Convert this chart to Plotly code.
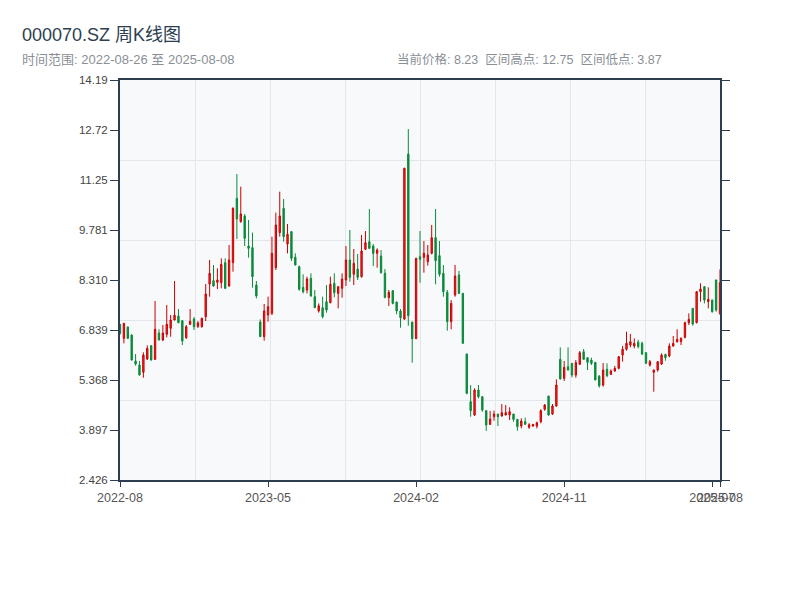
import pandas as pd
import numpy as np
import plotly.graph_objects as go

# ---------------- data (weekly K-line) ----------------
dates = pd.date_range("2022-08-26", periods=155, freq="7D")

opens = [
    7.005, 6.593, 6.927, 6.691, 5.927, 5.809, 5.593, 5.985, 6.378, 5.976,
    6.750, 6.544, 6.711, 6.888, 7.133, 7.250, 7.113, 6.613, 7.005, 7.162,
    6.940, 6.937, 7.231, 8.192, 8.290, 8.241, 8.231, 8.820, 8.133,
    8.820, 10.712, 10.026, 10.193, 9.310, 9.261, 8.163, 7.074, 6.643, 7.280,
    7.329, 8.673, 9.702, 10.418, 9.369, 9.732, 8.977, 8.702, 8.094, 8.015,
    8.359, 7.820, 7.400, 7.496, 7.672, 7.643, 8.212, 7.917, 8.065, 8.310,
    8.898, 8.477, 8.633, 8.408, 9.212, 9.438, 9.310, 9.094, 9.016, 8.506,
    7.790,
    7.996, 7.662, 7.398, 7.162, 12.016, 7.074, 6.584, 8.996, 8.977, 8.849,
    9.094, 9.555, 9.026, 8.506, 7.947, 7.084, 7.868, 8.457, 7.917,
    6.133, 4.730, 4.338, 5.074, 4.877, 4.466, 4.063, 4.289, 4.367, 4.309,
    4.338, 4.338, 4.367, 4.210, 4.014, 4.142, 3.980, 4.014, 4.014, 4.142,
    4.505, 4.897, 4.367, 4.603, 5.976, 5.417, 5.760, 5.858, 5.515, 5.829,
    6.201, 6.025, 5.956, 5.888,
    5.480, 5.220, 5.682, 5.534, 5.632, 5.711, 6.103, 6.270, 6.397, 6.368,
    6.480, 6.446, 6.172, 5.809, 5.593, 5.662, 5.838, 6.123, 6.074, 6.368,
    6.495, 6.495, 6.623, 7.054, 7.476, 7.054, 7.966, 8.113, 7.672, 7.721,
    8.310, 7.329,
]
highs = [
    7.010, 7.040, 6.940, 6.710, 6.132, 5.927, 6.182, 6.387, 6.390, 7.692,
    6.858, 6.986, 7.574, 7.280, 8.280, 7.456, 7.133, 6.986, 7.456, 7.221,
    7.100, 7.201, 8.192, 8.898, 8.751, 8.653, 8.947, 8.947, 9.339,
    10.448, 11.428, 11.056, 10.252, 10.075, 9.702, 8.280, 7.152, 7.604, 7.820,
    9.585, 10.291, 10.909, 10.693, 9.957, 9.750, 9.094, 8.732, 8.477, 8.408,
    8.506, 8.015, 7.620, 7.820, 8.163, 8.408, 8.506, 8.120, 8.506, 9.310,
    9.781, 9.222, 9.075, 9.634, 9.751, 10.399, 9.369, 9.241, 9.192, 8.633,
    8.015,
    8.015, 7.670, 7.456, 11.614, 12.750, 7.080, 8.967, 9.751, 9.457, 9.339,
    9.928, 10.399, 9.457, 8.751, 8.015, 7.721, 8.751, 8.575, 7.920,
    6.140, 5.221, 5.123, 5.221, 4.897, 4.470, 4.456, 4.466, 4.370, 4.662,
    4.632, 4.564, 4.370, 4.220, 4.240, 4.260, 4.100, 4.070, 4.142, 4.505,
    4.662, 4.900, 4.662, 5.387, 6.329, 5.927, 6.329, 5.870, 5.956, 6.221,
    6.280, 6.030, 6.025, 5.890,
    5.515, 5.868, 5.858, 5.681, 5.780, 6.074, 6.368, 6.790, 6.721, 6.593,
    6.550, 6.495, 6.180, 5.956, 5.670, 5.927, 6.152, 6.130, 6.446, 6.662,
    6.858, 6.623, 7.084, 7.329, 7.480, 7.986, 8.212, 8.120, 8.094, 7.730,
    8.320, 8.623,
]
lows = [
    6.700, 6.446, 6.574, 5.940, 5.789, 5.500, 5.436, 5.956, 5.940, 5.956,
    6.530, 6.515, 6.623, 6.642, 7.120, 7.040, 6.397, 6.574, 6.986, 6.839,
    6.900, 6.907, 7.103, 7.819, 8.114, 8.045, 8.064, 8.045, 8.114,
    8.555, 9.516, 9.997, 9.310, 8.967, 8.084, 7.770, 6.643, 6.525, 7.084,
    7.280, 8.604, 9.585, 9.438, 9.094, 8.869, 8.740, 7.996, 7.917, 7.917,
    7.820, 7.490, 7.350, 7.182, 7.349, 7.623, 7.800, 7.476, 7.790, 8.133,
    8.261, 8.163, 8.310, 8.378, 9.192, 9.220, 8.722, 8.673, 8.500, 7.770,
    7.545,
    7.594, 7.300, 6.907, 7.133, 6.966, 5.877, 6.580, 8.231, 8.526, 8.731,
    9.065, 8.182, 8.408, 7.819, 6.819, 6.858, 7.819, 7.900, 6.446,
    4.950, 4.289, 4.309, 4.828, 4.436, 3.870, 4.044, 4.171, 4.014, 4.290,
    4.330, 4.191, 4.142, 3.875, 3.946, 4.060, 3.930, 3.995, 3.946, 4.093,
    4.466, 4.318, 4.338, 4.583, 5.390, 5.338, 5.650, 5.446, 5.436, 5.809,
    5.970, 5.662, 5.809, 5.368,
    5.142, 5.171, 5.450, 5.515, 5.613, 5.681, 5.907, 6.230, 6.329, 6.299,
    6.300, 6.103, 5.850, 5.760, 5.024, 5.613, 5.809, 5.936, 6.035, 6.348,
    6.466, 6.397, 6.593, 6.986, 6.966, 7.035, 7.672, 7.623, 7.476, 7.349,
    7.378, 7.280,
]
closes = [
    6.740, 7.035, 6.593, 5.956, 5.838, 5.515, 6.103, 6.299, 5.956, 6.858,
    6.544, 6.750, 7.005, 7.133, 7.270, 7.054, 6.515, 6.937, 7.094, 6.937,
    7.050, 7.182, 7.898, 8.506, 8.133, 8.310, 8.770, 8.064, 8.898,
    10.418, 10.104, 10.252, 9.536, 9.241, 8.408, 7.839, 6.643, 7.398, 7.525,
    9.094, 9.928, 10.193, 9.585, 9.653, 8.947, 8.751, 8.035, 7.966, 8.339,
    7.839, 7.496, 7.550, 7.231, 7.427, 8.182, 7.937, 8.113, 8.339, 8.898,
    8.388, 8.800, 8.388, 9.163, 9.408, 9.241, 9.094, 9.192, 8.526, 7.800,
    7.947,
    7.623, 7.398, 7.202, 11.595, 7.260, 6.584, 8.947, 8.918, 9.094, 9.045,
    9.555, 8.879, 8.476, 7.966, 7.084, 7.623, 8.427, 7.917, 6.446,
    4.976, 4.466, 5.074, 4.877, 4.485, 4.044, 4.220, 4.367, 4.289, 4.407,
    4.407, 4.436, 4.211, 3.995, 4.162, 4.063, 4.050, 4.063, 4.113, 4.466,
    4.632, 4.338, 4.603, 5.221, 5.397, 5.740, 5.662, 5.515, 5.878, 6.172,
    5.976, 5.888, 5.858, 5.368,
    5.200, 5.662, 5.495, 5.632, 5.711, 6.054, 6.270, 6.446, 6.495, 6.446,
    6.350, 6.133, 5.858, 5.907, 5.662, 5.907, 6.103, 6.025, 6.368, 6.446,
    6.564, 6.593, 7.054, 7.152, 7.015, 7.966, 8.045, 7.721, 7.741, 7.378,
    7.427, 8.230,
]

tick_idx = [0, 38, 76, 114, 152, 154]

# ---------------- derived values ----------------
x = list(range(len(dates)))
hi, lo, last = max(highs), min(lows), closes[-1]
pad = (hi - lo) * 0.1626
ymin, ymax = lo - pad, hi + pad
ytickvals = list(np.linspace(ymin, ymax, 9))
yticktext = [f"{v:#.4g}" for v in ytickvals]
xticktext = [dates[i].strftime("%Y-%m") for i in tick_idx]
n = len(x) - 1

FONT = "Helvetica Neue, Arial, Noto Sans CJK SC, sans-serif"
AXIS = "#2c3e50"
GRID = "#e3e7ec"

fig = go.Figure(
    go.Candlestick(
        x=x, open=opens, high=highs, low=lows, close=closes,
        increasing=dict(line=dict(color="#cc0000", width=1), fillcolor="#ee2b2b"),
        decreasing=dict(line=dict(color="#0a8a3a", width=1), fillcolor="#0a8a3a"),
        whiskerwidth=0,
        showlegend=False,
    )
)

fig.update_layout(
    width=800, height=600,
    margin=dict(l=112, r=88, t=72, b=128, autoexpand=False),
    boxgap=0.5,
    paper_bgcolor="white",
    plot_bgcolor="#f7f9fb",
    font=dict(family=FONT, size=11, color="#555"),
    xaxis=dict(
        range=[0, n], rangeslider=dict(visible=False), automargin=False,
        tickmode="array", tickvals=tick_idx, ticktext=xticktext, tickangle=0,
        showgrid=False, zeroline=False,
        showline=True, linecolor=AXIS, linewidth=2, mirror=True,
        ticks="outside", ticklen=5, tickcolor=AXIS,
        tickfont=dict(size=12.5, color="#555"),
        minor=dict(tickmode="linear", tick0=0, dtick=n / 8, showgrid=True,
                   gridcolor=GRID, gridwidth=1, ticks=""),
    ),
    yaxis=dict(
        range=[ymin, ymax], automargin=False,
        tickmode="array", tickvals=ytickvals, ticktext=yticktext,
        showgrid=False, zeroline=False,
        showline=True, linecolor=AXIS, linewidth=2, mirror="ticks",
        ticks="outside", ticklen=8, tickcolor=AXIS,
        tickfont=dict(size=11.5, color="#444"),
        minor=dict(tickmode="linear", tick0=ymin, dtick=(ymax - ymin) / 5,
                   showgrid=True, gridcolor=GRID, gridwidth=1, ticks=""),
    ),
    annotations=[
        dict(text="000070.SZ 周K线图", xref="paper", yref="paper",
             x=-100 / 600, y=1 + 45 / 400, xanchor="left", yanchor="middle",
             showarrow=False, font=dict(size=18, color="#2c3e50")),
        dict(text=f"时间范围: {dates[0]:%Y-%m-%d} 至 {dates[-1]:%Y-%m-%d}",
             xref="paper", yref="paper", x=-100 / 600, y=1 + 21 / 400,
             xanchor="left", yanchor="middle", showarrow=False,
             font=dict(size=13, color="#8a8f96")),
        dict(text=f"当前价格: {last:.2f}\u00a0\u00a0区间高点: {hi:.2f}\u00a0\u00a0区间低点: {lo:.2f}",
             xref="paper", yref="paper", x=275 / 600, y=1 + 21 / 400,
             xanchor="left", yanchor="middle", showarrow=False,
             font=dict(size=12.5, color="#8a8f96")),
    ],
)

fig.write_html("out.html")
